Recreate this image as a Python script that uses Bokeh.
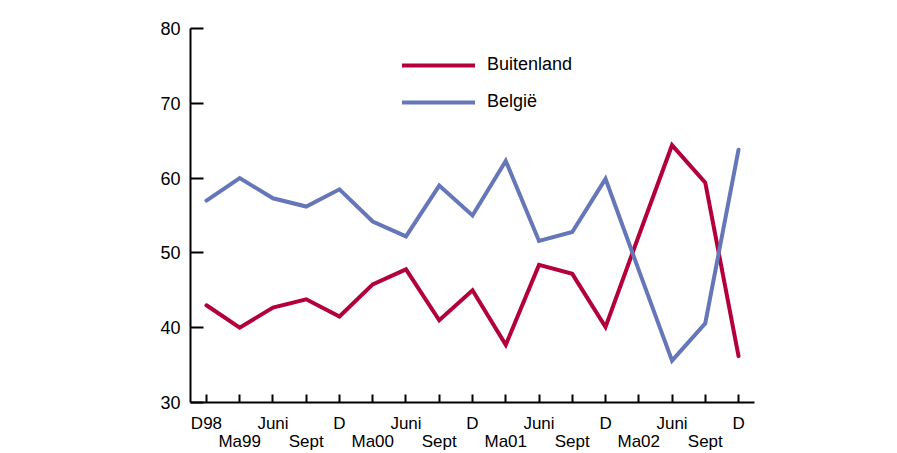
from bokeh.plotting import figure
from bokeh.models import Range1d, FixedTicker, LinearAxis, Legend, LegendItem
from bokeh.embed import file_html
from bokeh.resources import INLINE

periods = ["D98", "Ma99", "Juni", "Sept", "D", "Ma00", "Juni", "Sept", "D",
           "Ma01", "Juni", "Sept", "D", "Ma02", "Juni", "Sept", "D"]
buitenland = [43.0, 40.0, 42.7, 43.8, 41.5, 45.8, 47.8, 41.0, 45.0,
              37.7, 48.4, 47.2, 40.1, 52.3, 64.4, 59.4, 36.2]
belgie = [57.0, 60.0, 57.3, 56.2, 58.5, 54.2, 52.2, 59.0, 55.0,
          62.3, 51.6, 52.8, 59.9, 47.7, 35.6, 40.6, 63.8]
y_ticks = [30, 40, 50, 60, 70, 80]

RED = "#b4003a"
BLUE = "#6677b9"
FONT = "Liberation Sans"

xs = list(range(len(periods)))

p = figure(width=897, height=453, output_backend="svg", toolbar_location=None,
           x_range=Range1d(-0.48, len(periods) - 1 + 0.48),
           y_range=Range1d(y_ticks[0], y_ticks[-1]),
           min_border_left=190, min_border_right=143, min_border_top=28,
           min_border_bottom=50, x_axis_location=None, y_axis_location=None)
p.outline_line_color = None
p.background_fill_color = "white"
p.border_fill_color = "white"

# y axis
ya = LinearAxis(ticker=FixedTicker(ticks=y_ticks, minor_ticks=[]))
ya.axis_line_width = 2
ya.major_tick_line_width = 2
ya.major_tick_in = 13
ya.major_tick_out = 0
ya.minor_tick_line_color = None
ya.major_label_standoff = 10
ya.major_label_text_font = FONT
ya.major_label_text_font_size = "18px"
ya.major_label_text_color = "black"
p.add_layout(ya, "left")

# x axis, first row of labels (even positions) + all ticks
even = {i: (periods[i] if i % 2 == 0 else "") for i in xs}
xa = LinearAxis(ticker=FixedTicker(ticks=xs, minor_ticks=[]),
                major_label_overrides=even)
xa.axis_line_width = 2
xa.major_tick_line_width = 2
xa.major_tick_in = 8
xa.major_tick_out = 0
xa.minor_tick_line_color = None
xa.major_label_standoff = 11
xa.major_label_text_font = FONT
xa.major_label_text_font_size = "17px"
xa.major_label_text_color = "black"
p.add_layout(xa, "below")

# second row of labels (odd positions)
odd_ticks = [i for i in xs if i % 2 == 1]
xb = LinearAxis(ticker=FixedTicker(ticks=odd_ticks, minor_ticks=[]),
                major_label_overrides={i: periods[i] for i in odd_ticks})
xb.axis_line_color = None
xb.major_tick_line_color = None
xb.minor_tick_line_color = None
xb.major_tick_in = 0
xb.major_tick_out = 0
xb.major_label_standoff = -4
xb.major_label_text_font = FONT
xb.major_label_text_font_size = "17px"
xb.major_label_text_color = "black"
p.add_layout(xb, "below")

p.xgrid.visible = False
p.ygrid.visible = False

r1 = p.line(xs, buitenland, line_color=RED, line_width=4, line_join="miter", line_cap="round")
r2 = p.line(xs, belgie, line_color=BLUE, line_width=4, line_join="miter", line_cap="round")

legend = Legend(items=[LegendItem(label="Buitenland", renderers=[r1]),
                       LegendItem(label="België", renderers=[r2])],
                location=(212, 290), orientation="vertical")
legend.border_line_color = None
legend.background_fill_alpha = 0
legend.padding = 0
legend.margin = 0
legend.glyph_width = 73
legend.glyph_height = 20
legend.label_height = 20
legend.spacing = 16
legend.label_standoff = 12
legend.label_text_font = FONT
legend.label_text_font_size = "18px"
legend.label_text_color = "black"
p.add_layout(legend, "center")

open("out.html", "w").write(file_html(p, INLINE))
